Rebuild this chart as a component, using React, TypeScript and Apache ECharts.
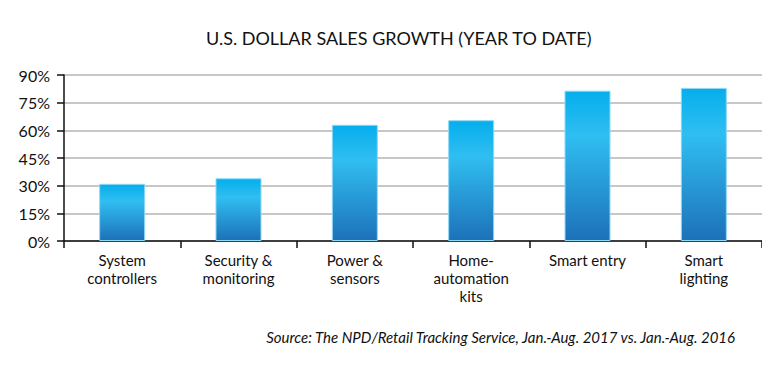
import React, { useEffect, useRef } from "react";
import * as echarts from "echarts";

const title = "U.S. DOLLAR SALES GROWTH (YEAR TO DATE)";
const source = "Source: The NPD/Retail Tracking Service, Jan.-Aug. 2017 vs. Jan.-Aug. 2016";
const categories = [
  "System\ncontrollers",
  "Security &\nmonitoring",
  "Power &\nsensors",
  "Home-\nautomation\nkits",
  "Smart entry",
  "Smart\nlighting",
];
const values = [31, 34, 63, 65.5, 81.5, 83];
const yTicks = { min: 0, max: 90, interval: 15 };

const FONT = "Lato, 'Noto Sans', sans-serif";

export default function App() {
  const ref = useRef<HTMLDivElement>(null);
  useEffect(() => {
    if (!ref.current) return;
    const chart = echarts.init(ref.current, null, { renderer: "svg" });
    chart.setOption({
      animation: false,
      backgroundColor: "#ffffff",
      title: {
        text: title,
        left: 201,
        top: 24,
        textStyle: { fontFamily: FONT, fontSize: 18, fontWeight: "normal", color: "#111" },
      },
      graphic: [
        {
          type: "text",
          right: 33,
          top: 329,
          style: {
            text: source,
            fontFamily: FONT,
            fontSize: 15,
            fontStyle: "italic",
            fill: "#111",
          },
        },
      ],
      grid: { left: 64, right: 8, top: 75, height: 166 },
      xAxis: {
        type: "category",
        data: categories,
        axisLine: { lineStyle: { color: "#111", width: 1.5 } },
        axisTick: { show: true, length: 7, alignWithLabel: false, lineStyle: { color: "#111", width: 1.5 } },
        axisLabel: {
          fontFamily: FONT,
          fontSize: 15,
          color: "#111",
          lineHeight: 18,
          margin: 10,
          interval: 0,
        },
      },
      yAxis: {
        type: "value",
        min: yTicks.min,
        max: yTicks.max,
        interval: yTicks.interval,
        axisLine: { show: true, lineStyle: { color: "#111", width: 1.5 } },
        axisTick: { show: true, length: 7, lineStyle: { color: "#111", width: 1.5 } },
        axisLabel: {
          formatter: "{value}%",
          fontFamily: FONT,
          fontSize: 16,
          color: "#111",
          margin: 14,
        },
        splitLine: { lineStyle: { color: "#b4b4b4", width: 1.5 } },
      },
      series: [
        {
          type: "bar",
          data: values,
          barWidth: 46,
          itemStyle: {
            color: new echarts.graphic.LinearGradient(0, 0, 0, 1, [
              { offset: 0, color: "#05AEEC" },
              { offset: 0.3, color: "#30BEF1" },
              { offset: 1, color: "#1D71B8" },
            ]),
            borderColor: "#8fd8f5",
            borderWidth: 1,
          },
        },
      ],
    });
    return () => chart.dispose();
  }, []);
  return <div ref={ref} style={{ width: 770, height: 366, margin: -8 }} />;
}
